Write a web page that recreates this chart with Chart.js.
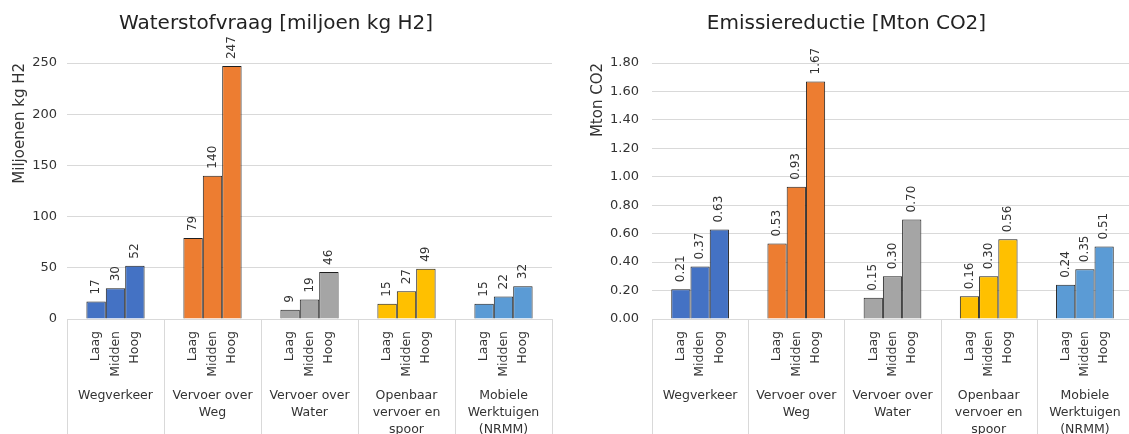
<!DOCTYPE html>
<html lang="nl">
<head>
    <meta charset="UTF-8">
    <title>Waterstofvraag en emissiereductie</title>
    <style>
        body {
            margin: 0;
            background: #ffffff;
            width: 1129px;
            height: 434px;
            overflow: hidden;
            position: relative;
        }
        #left-box {
            position: absolute;
            left: 0;
            top: 0;
            width: 560px;
            height: 434px;
        }
        #right-box {
            position: absolute;
            left: 560px;
            top: 0;
            width: 580px;
            height: 434px;
        }
    </style>
</head>
<body>
    <div id="left-box"><canvas id="h2Chart"></canvas></div>
    <div id="right-box"><canvas id="co2Chart"></canvas></div>
    <script src="https://cdn.jsdelivr.net/npm/chart.js@4.4.1/dist/chart.umd.min.js"></script>
    <script>
        // categorieen en scenario's
        const groups = [
            ['Wegverkeer'],
            ['Vervoer over', 'Weg'],
            ['Vervoer over', 'Water'],
            ['Openbaar', 'vervoer en', 'spoor'],
            ['Mobiele', 'Werktuigen', '(NRMM)']
        ];
        const scenarios = ['Laag', 'Midden', 'Hoog'];
        const groupColors = ['#4472c4', '#ed7d31', '#a5a5a5', '#ffc000', '#5b9bd5'];

        // waterstofvraag [miljoen kg H2]
        const h2Laag = [17, 79, 9, 15, 15];
        const h2Midden = [30, 140, 19, 27, 22];
        const h2Hoog = [52, 247, 46, 49, 32];

        // emissiereductie [Mton CO2]
        const co2Laag = [0.21, 0.53, 0.15, 0.16, 0.24];
        const co2Midden = [0.37, 0.93, 0.30, 0.30, 0.35];
        const co2Hoog = [0.63, 1.67, 0.70, 0.56, 0.51];

        Chart.defaults.font.family = '"DejaVu Sans", Verdana, sans-serif';
        Chart.defaults.color = '#333333';

        const FONT = '"DejaVu Sans", Verdana, sans-serif';

        // scheidingslijnen, waardelabels en Laag/Midden/Hoog onder de balken
        const extraLabels = {
            id: 'extraLabels',
            afterDatasetsDraw(chart, args, opts) {
                const ctx = chart.ctx;
                const xs = chart.scales.x;
                ctx.save();
                ctx.strokeStyle = '#d9d9d9';
                ctx.lineWidth = 1;
                for (let i = 0; i <= groups.length; i++) {
                    const x = Math.round(xs.left + i * xs.width / groups.length) + 0.5;
                    ctx.beginPath();
                    ctx.moveTo(x, xs.top);
                    ctx.lineTo(x, chart.height);
                    ctx.stroke();
                }
                ctx.fillStyle = '#333333';
                ctx.textBaseline = 'middle';
                chart.data.datasets.forEach((ds, d) => {
                    const meta = chart.getDatasetMeta(d);
                    meta.data.forEach((bar, i) => {
                        ctx.save();
                        ctx.translate(bar.x, bar.y - 7);
                        ctx.rotate(-Math.PI / 2);
                        ctx.font = '12px ' + FONT;
                        ctx.textAlign = 'left';
                        ctx.fillText(ds.data[i].toFixed(opts.decimals), 0, 0);
                        ctx.restore();

                        ctx.save();
                        ctx.translate(bar.x, xs.top + 12);
                        ctx.rotate(-Math.PI / 2);
                        ctx.font = '12.5px ' + FONT;
                        ctx.textAlign = 'right';
                        ctx.fillText(scenarios[d], 0, 0);
                        ctx.restore();
                    });
                });
                ctx.restore();
            }
        };

        function makeChart(canvasId, title, axisTitle, laag, midden, hoog, opt) {
            const ds = [laag, midden, hoog].map((values, i) => ({
                label: scenarios[i],
                data: values,
                backgroundColor: groupColors,
                borderColor: '#1f1f1f',
                borderWidth: 1,
                categoryPercentage: 0.6,
                barPercentage: 1.0
            }));
            return new Chart(document.getElementById(canvasId), {
                type: 'bar',
                data: { labels: groups, datasets: ds },
                options: {
                    responsive: true,
                    maintainAspectRatio: false,
                    animation: false,
                    layout: { padding: { left: 0, right: opt.padRight, top: 0, bottom: 0 } },
                    plugins: {
                        legend: { display: false },
                        tooltip: { enabled: false },
                        title: {
                            display: true,
                            text: title,
                            color: '#222222',
                            font: { size: 20, weight: 'normal' },
                            padding: { top: 12, bottom: 27 }
                        },
                        extraLabels: { decimals: opt.decimals }
                    },
                    scales: {
                        x: {
                            offset: true,
                            grid: { display: false },
                            border: { display: true, color: '#d9d9d9' },
                            ticks: {
                                autoSkip: false,
                                maxRotation: 0,
                                minRotation: 0,
                                padding: 60,
                                font: { size: 12.5, lineHeight: 1.36 },
                                color: '#333333'
                            },
                            afterFit: (scale) => {
                                scale.height = 115;
                                scale.paddingLeft = 0;
                                scale.paddingRight = 0;
                            }
                        },
                        y: {
                            min: 0,
                            max: opt.max,
                            border: { display: false },
                            grid: { color: '#d9d9d9', drawTicks: false },
                            ticks: {
                                stepSize: opt.step,
                                padding: opt.tickPad,
                                font: { size: 13 },
                                color: '#333333',
                                callback: (v) => Number(v).toFixed(opt.decimals)
                            },
                            title: {
                                display: true,
                                text: axisTitle,
                                align: 'end',
                                color: '#333333',
                                font: { size: 15 },
                                padding: { top: opt.titlePad, bottom: 0 }
                            },
                            afterFit: (scale) => { scale.width = opt.axisWidth; }
                        }
                    }
                },
                plugins: [extraLabels]
            });
        }

        makeChart('h2Chart', 'Waterstofvraag [miljoen kg H2]', 'Miljoenen kg H2',
            h2Laag, h2Midden, h2Hoog,
            { max: 250, step: 50, decimals: 0, padRight: 8, tickPad: 10, axisWidth: 67, titlePad: 11 });

        makeChart('co2Chart', 'Emissiereductie [Mton CO2]', 'Mton CO2',
            co2Laag, co2Midden, co2Hoog,
            { max: 1.8, step: 0.2, decimals: 2, padRight: 7, tickPad: 13, axisWidth: 92, titlePad: 29 });
    </script>
</body>
</html>
